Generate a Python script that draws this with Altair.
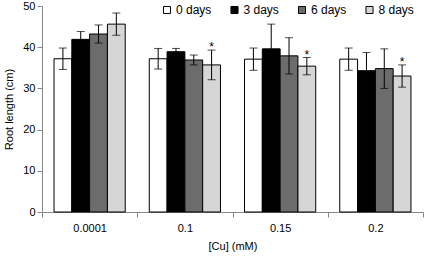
import altair as alt
import pandas as pd

cu = ["0.0001", "0.1", "0.15", "0.2"]
days = ["0 days", "3 days", "6 days", "8 days"]
means = {
    "0 days": [37.2, 37.2, 37.1, 37.1],
    "3 days": [41.9, 38.9, 39.6, 34.3],
    "6 days": [43.2, 36.9, 37.9, 34.8],
    "8 days": [45.6, 35.7, 35.4, 33.0],
}
errs = {
    "0 days": [2.6, 2.5, 2.7, 2.7],
    "3 days": [1.9, 0.8, 6.0, 4.4],
    "6 days": [2.2, 1.2, 4.4, 4.8],
    "8 days": [2.7, 3.6, 2.1, 2.7],
}
stars = {
    "0 days": ["", "", "", ""],
    "3 days": ["", "", "", ""],
    "6 days": ["", "", "", ""],
    "8 days": ["", "*", "*", "*"],
}
fills = ["#ffffff", "#000000", "#6c6c6c", "#d6d6d6"]

rows = []
for d in days:
    for i, c in enumerate(cu):
        m, e = means[d][i], errs[d][i]
        rows.append({"cu": c, "day": d, "mean": m, "lo": m - e, "hi": m + e, "star": stars[d][i]})
df = pd.DataFrame(rows)

FONT = "Liberation Sans"

x = alt.X("cu:N", sort=cu, scale=alt.Scale(paddingInner=0, paddingOuter=0),
          axis=alt.Axis(title="[Cu] (mM)", labelAngle=0, tickBand="extent",
                        domainColor="#888888", tickColor="#888888", tickSize=5,
                        labelPadding=5, titlePadding=7))
xo = alt.XOffset("day:N", sort=days, scale=alt.Scale(paddingInner=0, paddingOuter=0.675))

base = alt.Chart(df)

bars = base.mark_bar(stroke="black", strokeWidth=1).encode(
    x=x,
    xOffset=xo,
    y=alt.Y("mean:Q", scale=alt.Scale(domain=[0, 50]),
            axis=alt.Axis(title="Root length (cm)", values=[0, 10, 20, 30, 40, 50], grid=False,
                          domainColor="#888888", tickColor="#888888", tickSize=5,
                          titlePadding=8)),
    fill=alt.Fill("day:N", sort=days, scale=alt.Scale(domain=days, range=fills),
                  legend=alt.Legend(title=None, orient="none", direction="horizontal",
                                    legendX=119, legendY=-2, symbolType="square",
                                    symbolSize=50, symbolStrokeColor="black",
                                    symbolStrokeWidth=1, labelFontSize=12,
                                    labelFont=FONT, labelColor="black",
                                    columnPadding=16.5, labelOffset=3)),
)

rules = base.mark_rule(color="black", strokeWidth=1).encode(
    x=alt.X("cu:N", sort=cu), xOffset=xo, y="lo:Q", y2="hi:Q")
caps_hi = base.mark_tick(color="black", orient="horizontal", size=8, thickness=1).encode(
    x=alt.X("cu:N", sort=cu), xOffset=xo, y="hi:Q")
caps_lo = base.mark_tick(color="black", orient="horizontal", size=8, thickness=1).encode(
    x=alt.X("cu:N", sort=cu), xOffset=xo, y="lo:Q")
star_text = base.mark_text(baseline="alphabetic", fontSize=12, font=FONT, dy=1, color="black").encode(
    x=alt.X("cu:N", sort=cu), xOffset=xo, y="hi:Q", text="star:N")

chart = alt.layer(bars, rules, caps_hi, caps_lo, star_text).properties(
    width=381, height=206,
    autosize=alt.AutoSizeParams(type="none"),
    padding={"left": 42, "top": 6, "right": 2, "bottom": 46},
).configure_view(stroke=None).configure_axis(
    labelFont=FONT, titleFont=FONT, labelFontSize=11, titleFontSize=11,
    titleFontWeight="normal", labelColor="black", titleColor="black",
)

chart.save("out.html", embed_options={"renderer": "svg", "actions": False})
